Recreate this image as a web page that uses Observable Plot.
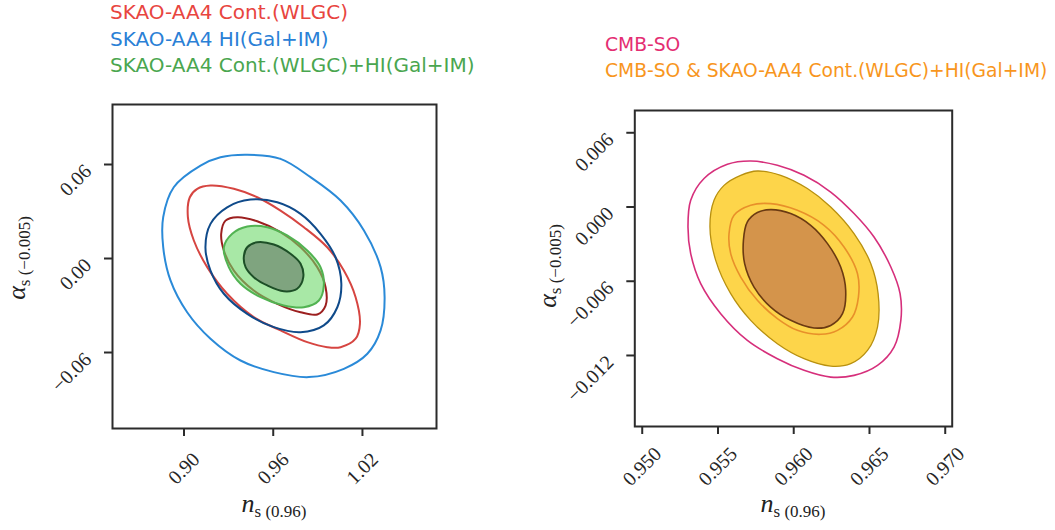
<!DOCTYPE html>
<html><head><meta charset="utf-8">
<script src="https://cdn.jsdelivr.net/npm/d3@7"></script>
<script src="https://cdn.jsdelivr.net/npm/@observablehq/plot@0.6"></script>
<style>
body{margin:0;background:#fff;}
#wrap{position:relative;width:1055px;height:530px;overflow:hidden;background:#fff;}
.box{position:absolute;top:0;}
.leg{position:absolute;font-family:"DejaVu Sans",sans-serif;font-size:20px;line-height:20px;white-space:nowrap;}
.lab{position:absolute;font-family:"Liberation Serif",serif;color:#222;white-space:nowrap;line-height:26px;}
.lab i{font-size:26px;}
.lab span{font-size:17px;position:relative;top:5px;}
</style></head><body>
<div id="wrap">
  <div id="left" class="box" style="left:0px"></div>
  <div id="right" class="box" style="left:520px"></div>
</div>
<script>
// ---------------- data ----------------
const leftLegend = ["SKAO-AA4 Cont.(WLGC)", "SKAO-AA4 HI(Gal+IM)", "SKAO-AA4 Cont.(WLGC)+HI(Gal+IM)"];
const leftLegendColors = ["#e8453f", "#2a80d6", "#4aa64f"];
const rightLegend = ["CMB-SO", "CMB-SO & SKAO-AA4 Cont.(WLGC)+HI(Gal+IM)"];
const rightLegendColors = ["#e42e72", "#f8961d"];

const leftXTicks = [0.90, 0.96, 1.02];
const leftXTickLabels = ["0.90", "0.96", "1.02"];
const leftYTicks = [-0.06, 0.00, 0.06];
const leftYTickLabels = ["\u22120.06", "0.00", "0.06"];
const rightXTicks = [0.950, 0.955, 0.960, 0.965, 0.970];
const rightXTickLabels = ["0.950", "0.955", "0.960", "0.965", "0.970"];
const rightYTicks = [-0.012, -0.006, 0.000, 0.006];
const rightYTickLabels = ["\u22120.012", "\u22120.006", "0.000", "0.006"];

// left panel contours [n_s, alpha_s]
const hiOuter = [[0.9425,0.0662],[0.9649,0.0636],[0.9851,0.0519],[1.0053,0.0370],[1.0210,0.0179],[1.0322,-0.0055],[1.0349,-0.0247],[1.0322,-0.0459],[1.0233,-0.0608],[1.0075,-0.0704],[0.9840,-0.0757],[0.9604,-0.0725],[0.9380,-0.0651],[0.9178,-0.0512],[0.9021,-0.0343],[0.8909,-0.0140],[0.8860,0.0072],[0.8860,0.0264],[0.8931,0.0455],[0.9111,0.0593],[0.9245,0.0646]];
const contOuter = [[0.9178,0.0466],[0.9335,0.0445],[0.9492,0.0391],[0.9649,0.0306],[0.9806,0.0200],[0.9963,0.0072],[1.0075,-0.0077],[1.0154,-0.0247],[1.0183,-0.0417],[1.0154,-0.0512],[1.0053,-0.0566],[0.9963,-0.0566],[0.9829,-0.0534],[0.9649,-0.0459],[0.9469,-0.0374],[0.9290,-0.0225],[0.9156,-0.0055],[0.9066,0.0115],[0.9026,0.0264],[0.9039,0.0391],[0.9089,0.0445]];
const hiInner = [[0.9144,0.0072],[0.9178,0.0221],[0.9290,0.0327],[0.9447,0.0376],[0.9627,0.0359],[0.9784,0.0285],[0.9918,0.0158],[1.0019,0.0008],[1.0058,-0.0161],[1.0031,-0.0311],[0.9940,-0.0427],[0.9784,-0.0470],[0.9604,-0.0438],[0.9425,-0.0353],[0.9268,-0.0225],[0.9178,-0.0077]];
const contInner = [[0.9250,0.0158],[0.9279,0.0242],[0.9358,0.0264],[0.9492,0.0238],[0.9649,0.0168],[0.9784,0.0072],[0.9896,-0.0055],[0.9952,-0.0183],[0.9952,-0.0300],[0.9896,-0.0357],[0.9784,-0.0343],[0.9627,-0.0289],[0.9469,-0.0204],[0.9335,-0.0077],[0.9268,0.0051]];
const combOuter = [[0.9268,0.0072],[0.9324,0.0158],[0.9425,0.0204],[0.9560,0.0200],[0.9694,0.0147],[0.9829,0.0051],[0.9918,-0.0055],[0.9940,-0.0172],[0.9907,-0.0268],[0.9806,-0.0311],[0.9671,-0.0300],[0.9515,-0.0247],[0.9380,-0.0161],[0.9301,-0.0055]];
const combInner = [[0.9402,0.0008],[0.9425,0.0072],[0.9492,0.0104],[0.9604,0.0089],[0.9716,0.0030],[0.9784,-0.0034],[0.9802,-0.0119],[0.9761,-0.0193],[0.9671,-0.0209],[0.9560,-0.0172],[0.9469,-0.0119],[0.9414,-0.0055]];

// right panel contours
const cmbOuter = [[0.95302,-0.00162],[0.95320,0.00054],[0.95408,0.00230],[0.95562,0.00345],[0.95716,0.00372],[0.95892,0.00337],[0.96068,0.00256],[0.96244,0.00121],[0.96398,-0.00053],[0.96530,-0.00243],[0.96641,-0.00485],[0.96702,-0.00700],[0.96707,-0.00916],[0.96662,-0.01132],[0.96553,-0.01280],[0.96398,-0.01361],[0.96244,-0.01375],[0.96068,-0.01320],[0.95892,-0.01226],[0.95694,-0.01078],[0.95518,-0.00862],[0.95386,-0.00619],[0.95320,-0.00377]];
const jointOuter = [[0.95447,-0.00162],[0.95474,0.00054],[0.95540,0.00175],[0.95650,0.00256],[0.95760,0.00291],[0.95914,0.00256],[0.96090,0.00149],[0.96244,0.00000],[0.96398,-0.00215],[0.96509,-0.00458],[0.96557,-0.00700],[0.96553,-0.00970],[0.96487,-0.01159],[0.96376,-0.01266],[0.96244,-0.01286],[0.96068,-0.01226],[0.95892,-0.01105],[0.95716,-0.00916],[0.95584,-0.00700],[0.95485,-0.00431]];
const cmbInner = [[0.95573,-0.00215],[0.95606,-0.00067],[0.95716,0.00014],[0.95848,0.00027],[0.96024,-0.00027],[0.96200,-0.00148],[0.96332,-0.00323],[0.96421,-0.00539],[0.96427,-0.00728],[0.96388,-0.00889],[0.96289,-0.00997],[0.96178,-0.01029],[0.96024,-0.00997],[0.95892,-0.00902],[0.95760,-0.00754],[0.95650,-0.00566],[0.95584,-0.00377]];
const jointInner = [[0.95668,-0.00269],[0.95694,-0.00121],[0.95760,-0.00045],[0.95848,-0.00021],[0.95980,-0.00053],[0.96112,-0.00148],[0.96223,-0.00296],[0.96310,-0.00485],[0.96343,-0.00674],[0.96322,-0.00862],[0.96244,-0.00957],[0.96134,-0.00978],[0.95980,-0.00916],[0.95848,-0.00809],[0.95738,-0.00647],[0.95676,-0.00458]];

// ---------------- drawing ----------------
const AX = "#2b2b2b";
const SERIF = "'Liberation Serif', serif";
function contour(pts, o) {
  return Plot.line(pts, {x: d => d[0], y: d => d[1], curve: "catmull-rom-closed", ...o});
}
function panel(cfg) {
  const xt = cfg.xTicks.map((v, i) => ({v, t: cfg.xLabels[i]}));
  const yt = cfg.yTicks.map((v, i) => ({v, t: cfg.yLabels[i]}));
  return Plot.plot({
    width: cfg.width, height: 530,
    marginLeft: cfg.ml, marginRight: cfg.mr, marginTop: cfg.mt, marginBottom: cfg.mb,
    x: {domain: cfg.xDomain},
    y: {domain: cfg.yDomain},
    style: {background: "transparent", overflow: "visible", fontFamily: SERIF},
    marks: [
      ...cfg.marks,
      Plot.frame({stroke: AX, strokeWidth: 2}),
      Plot.axisX(cfg.xTicks, {anchor: "bottom", tickSize: 8, stroke: AX, strokeWidth: 2, tickFormat: () => "", label: null}),
      Plot.axisY(cfg.yTicks, {anchor: "left", tickSize: 8, stroke: AX, strokeWidth: 2, tickFormat: () => "", label: null}),
      Plot.text(xt, {x: "v", text: "t", frameAnchor: "bottom", dy: 40, rotate: -45, textAnchor: "middle", lineAnchor: "middle", fontFamily: SERIF, fontSize: 20, fill: "#262626"}),
      Plot.text(yt, {y: "v", text: "t", frameAnchor: "left", dx: -30, dy: -2, rotate: -45, textAnchor: "end", lineAnchor: "top", fontFamily: SERIF, fontSize: 20, fill: "#262626"})
    ]
  });
}

const leftPlot = panel({
  width: 520, ml: 112, mr: 84, mt: 104, mb: 102,
  xDomain: [0.8519, 1.0698], yDomain: [-0.1085, 0.0983],
  xTicks: leftXTicks, xLabels: leftXTickLabels, yTicks: leftYTicks, yLabels: leftYTickLabels,
  marks: [
    contour(hiOuter, {stroke: "#2a8ad8", strokeWidth: 2}),
    contour(contOuter, {stroke: "#d64541", strokeWidth: 2}),
    contour(hiInner, {stroke: "#0f4a8a", strokeWidth: 2}),
    contour(contInner, {stroke: "#9c1f1f", strokeWidth: 2}),
    contour(combOuter, {stroke: "#52b352", strokeWidth: 2, fill: "#6ed86a", fillOpacity: 0.6}),
    contour(combInner, {stroke: "#1d4f27", strokeWidth: 2, fill: "#718e72", fillOpacity: 0.75})
  ]
});
document.getElementById("left").appendChild(leftPlot);

const rightPlot = panel({
  width: 535, ml: 114.3, mr: 103.3, mt: 110, mb: 104,
  xDomain: [0.94951, 0.97046], yDomain: [-0.01774, 0.0078],
  xTicks: rightXTicks, xLabels: rightXTickLabels, yTicks: rightYTicks, yLabels: rightYTickLabels,
  marks: [
    contour(cmbOuter, {stroke: "#d62f7b", strokeWidth: 1.6}),
    contour(jointOuter, {stroke: "#b8900f", strokeWidth: 1.3, fill: "#fdd54a"}),
    contour(cmbInner, {stroke: "#e8902a", strokeWidth: 1.6}),
    contour(jointInner, {stroke: "#6b3a12", strokeWidth: 1.6, fill: "#d4944b"})
  ]
});
document.getElementById("right").appendChild(rightPlot);

// legends and axis labels (HTML text)
const wrap = document.getElementById("wrap");
function addDiv(cls, html, css) {
  const d = document.createElement("div");
  d.className = cls; d.innerHTML = html; Object.assign(d.style, css);
  wrap.appendChild(d); return d;
}
leftLegend.forEach((t, i) => addDiv("leg", "", {left: "110px", top: (2 + i * 26.5) + "px", color: leftLegendColors[i]}).textContent = t);
rightLegend.forEach((t, i) => addDiv("leg", "", {left: "605px", top: (35 + i * 26) + "px", fontSize: "18.7px", color: rightLegendColors[i]}).textContent = t);

const xLab = "<i>n</i><span>s (0.96)</span>";
const yLab = "<i>\u03b1</i><span>s (\u22120.005)</span>";
addDiv("lab", xLab, {left: "274px", top: "491px", transform: "translateX(-50%)"});
addDiv("lab", xLab, {left: "793px", top: "491px", transform: "translateX(-50%)"});
addDiv("lab", yLab, {left: "18px", top: "258px", transform: "translate(-50%,-50%) rotate(-90deg)"});
addDiv("lab", yLab, {left: "549px", top: "266px", transform: "translate(-50%,-50%) rotate(-90deg)"});
</script>
</body></html>
